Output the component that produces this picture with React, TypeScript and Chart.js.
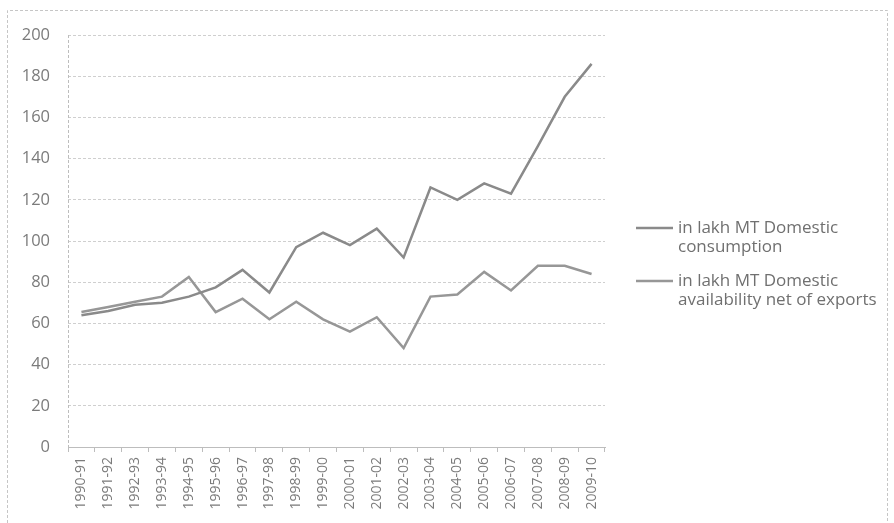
import React, { useEffect, useRef } from "react";
import { Chart, registerables } from "chart.js";

Chart.register(...registerables);

const categories = [
  "1990-91", "1991-92", "1992-93", "1993-94", "1994-95", "1995-96", "1996-97",
  "1997-98", "1998-99", "1999-00", "2000-01", "2001-02", "2002-03", "2003-04",
  "2004-05", "2005-06", "2006-07", "2007-08", "2008-09", "2009-10",
];

const consumption = [64, 66, 69, 70, 73, 77.5, 86, 75, 97, 104, 98, 106, 92, 126, 120, 128, 123, 146, 170, 186];
const availability = [65.5, 68, 70.5, 73, 82.5, 65.5, 72, 62, 70.5, 62, 56, 63, 48, 73, 74, 85, 76, 88, 88, 84];

const seriesLabels = [
  "in lakh MT Domestic consumption",
  "in lakh MT Domestic availability net of exports",
];

const yMin = 0;
const yMax = 200;
const yStep = 20;

const TEXT = "#7b7b7b";

function wrapText(ctx: CanvasRenderingContext2D, text: string, maxW: number): string[] {
  const words = text.split(" ");
  const lines: string[] = [];
  let cur = "";
  for (const w of words) {
    const test = cur ? cur + " " + w : w;
    if (ctx.measureText(test).width > maxW && cur) {
      lines.push(cur);
      cur = w;
    } else {
      cur = test;
    }
  }
  if (cur) lines.push(cur);
  return lines;
}

const decorPlugin = {
  id: "decor",
  beforeDraw(chart: any) {
    const ctx = chart.ctx;
    ctx.save();
    ctx.fillStyle = "#ffffff";
    ctx.fillRect(0, 0, chart.width, chart.height);
    ctx.restore();
  },
  afterDraw(chart: any) {
    const ctx: CanvasRenderingContext2D = chart.ctx;
    const { left, top, bottom, right } = chart.chartArea;
    ctx.save();
    // outer dashed frame
    ctx.setLineDash([3, 2]);
    ctx.strokeStyle = "#c6c6c6";
    ctx.lineWidth = 1;
    ctx.beginPath();
    ctx.moveTo(7.5, chart.height);
    ctx.lineTo(7.5, 10.5);
    ctx.lineTo(887.5, 10.5);
    ctx.lineTo(887.5, chart.height);
    ctx.stroke();
    // dashed vertical axis
    ctx.strokeStyle = "#bdbdbd";
    ctx.beginPath();
    ctx.moveTo(Math.round(left) + 0.5, top);
    ctx.lineTo(Math.round(left) + 0.5, bottom);
    ctx.stroke();
    ctx.setLineDash([]);

    // legend
    ctx.font = "17px 'Open Sans'";
    ctx.textBaseline = "middle";
    ctx.textAlign = "left";
    const sx = right + 31;
    const sw = 37;
    const tx = sx + sw + 5;
    const lineH = 19;
    const starts = [228, 281];
    chart.data.datasets.forEach((ds: any, i: number) => {
      const y = starts[i];
      ctx.strokeStyle = ds.borderColor;
      ctx.lineWidth = 2.5;
      ctx.beginPath();
      ctx.moveTo(sx, y);
      ctx.lineTo(sx + sw, y);
      ctx.stroke();
      ctx.fillStyle = "#707070";
      const lines = wrapText(ctx, ds.label, 205);
      lines.forEach((ln, j) => ctx.fillText(ln, tx, y + j * lineH));
    });
    ctx.restore();
  },
};

export default function App() {
  const ref = useRef<HTMLCanvasElement | null>(null);

  useEffect(() => {
    if (!ref.current) return;
    const chart = new Chart(ref.current, {
      type: "line",
      data: {
        labels: categories,
        datasets: [
          {
            label: seriesLabels[0],
            data: consumption,
            borderColor: "#8a8a8a",
            backgroundColor: "#8a8a8a",
            borderWidth: 2.5,
            pointRadius: 0,
            tension: 0,
          },
          {
            label: seriesLabels[1],
            data: availability,
            borderColor: "#979797",
            backgroundColor: "#979797",
            borderWidth: 2.5,
            pointRadius: 0,
            tension: 0,
          },
        ],
      },
      options: {
        responsive: false,
        animation: false,
        devicePixelRatio: 1,
        layout: { padding: { top: 35, right: 289, bottom: 0, left: 0 } },
        plugins: {
          legend: { display: false },
          tooltip: { enabled: false },
        },
        scales: {
          x: {
            type: "category",
            offset: true,
            grid: {
              offset: true,
              drawOnChartArea: false,
              drawTicks: true,
              tickLength: 5,
              color: "#bdbdbd",
            },
            border: { color: "#bdbdbd", width: 1 },
            ticks: {
              autoSkip: false,
              maxRotation: 90,
              minRotation: 90,
              padding: 5,
              color: TEXT,
              font: { family: "'Open Sans'", size: 14 },
            },
            afterFit(scale: any) {
              scale.height = 76;
            },
          },
          y: {
            min: yMin,
            max: yMax,
            ticks: {
              stepSize: yStep,
              padding: 18,
              color: TEXT,
              font: { family: "'Open Sans'", size: 16.5 },
            },
            grid: {
              color: "#cfcfcf",
              drawTicks: false,
              lineWidth: 1,
            },
            border: { display: false, dash: [3, 2] },
            afterFit(scale: any) {
              scale.width = 68;
            },
          },
        },
      },
      plugins: [decorPlugin],
    });
    return () => chart.destroy();
  }, []);

  return (
    <div style={{ position: "fixed", left: 0, top: 0, width: 894, height: 523, background: "#fff" }}>
      <canvas ref={ref} width={894} height={523} />
    </div>
  );
}
